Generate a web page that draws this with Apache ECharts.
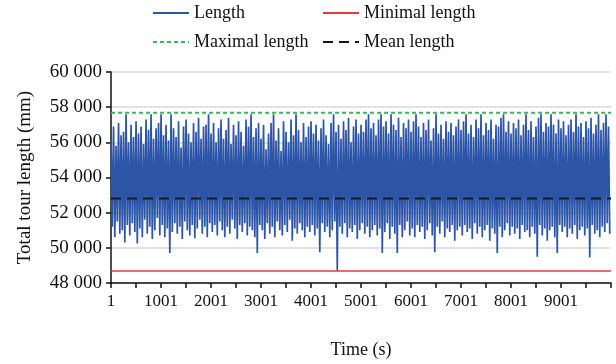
<!DOCTYPE html>
<html>
<head>
<meta charset="utf-8">
<script src="https://cdn.jsdelivr.net/npm/echarts@6/dist/echarts.min.js"></script>
<style>
html,body{margin:0;padding:0;background:#fff;}
#chart{width:616px;height:364px;}
</style>
</head>
<body>
<div id="chart"></div>
<script>
// Upper envelope of the tour length samples (mm), read left to right
var peaks = [
56200,56900,55800,57100,56400,56600,57600,56000,57000,56300,57200,56500,56900,55900,57300,56700,57600,56200,56800,57100,
57600,56400,57000,56100,57600,56800,56300,57200,55700,56900,57300,56500,56000,57100,56600,57400,56200,56900,57000,57600,
56500,57100,56000,56800,57300,56200,56700,57400,55900,57000,56400,57200,56600,55800,57300,56900,57600,56300,56800,57100,
56200,57000,55600,56500,57100,57600,56100,56800,55500,57200,56600,56000,57300,56400,57600,56700,56000,57100,56300,56900,
57200,56500,57000,56100,56800,57300,56400,55900,57100,57600,56600,57000,56200,57200,56700,57400,56000,56900,57300,56500,
57000,56600,57300,57600,56800,57100,56400,57300,57600,56900,57200,56500,57600,57000,56700,57400,56300,57100,56800,57300,
56600,57200,57600,56900,56300,57100,56700,57300,56100,56800,57600,56500,57000,56200,57200,56600,57100,56400,56900,57300,
56700,57200,57600,56500,57000,56300,57300,56800,57600,56400,57100,56700,57300,56200,57000,56900,57400,57600,56600,57200,
56500,57100,56800,57300,56400,57000,57600,56700,57200,56300,56900,57400,57600,56600,57100,56900,57600,57000,56500,57300,
56800,57200,56400,57000,57300,56600,57600,56900,57100,56300,57200,56800,57400,56500,57000,57600,56700,57100,57600,56900
];
// Lower envelope of the tour length samples (mm), read left to right
var troughs = [
51200,50600,51500,50800,51000,50300,51300,50700,51400,50900,50250,51100,50600,51600,50800,51200,50500,51000,51700,50700,
51300,50600,51100,49700,50900,51400,50800,51200,50500,51500,51000,50700,51300,50540,51100,51600,50800,51200,50600,51400,
50900,51300,50700,51500,51000,50600,51200,50800,51600,51100,50500,51300,50900,51400,50700,51200,51000,50600,49700,51300,
51000,50500,51400,50800,51200,50600,51500,51000,50700,51300,50900,51600,50400,51100,50800,51400,51000,50600,51200,50900,
51300,50700,51100,49750,51400,50900,51200,50600,51000,51500,48700,51200,50800,51400,50600,51100,50900,51300,50500,51000,
51400,50800,51200,50600,51000,51300,50700,51100,49700,50900,51400,50500,51200,50800,49700,51300,50600,51000,51500,50700,
51100,50600,51300,50900,51200,50500,51000,51400,50700,49750,51200,50800,51500,50600,51100,50900,51300,50400,51000,51200,
50700,51300,50900,51100,50500,51400,50800,51200,50600,51000,51300,50400,51100,50800,49700,51200,50600,51000,51400,50700,
51200,50800,51100,50500,51300,50900,51000,50600,51200,50800,49500,51300,50700,51100,50400,51000,51200,50600,49700,51300,
50900,51200,50600,51100,50800,51300,50500,51000,51200,50700,51100,49450,51300,50800,51000,50600,51200,50900,51400,50800
];
var minimalLength = 48680;
var maximalLength = 57680;
var meanLength = 52800;
var timeStart = 1;
var timeEnd = 10000;
var yTicks = [48000, 50000, 52000, 54000, 56000, 58000, 60000];

var n = peaks.length;
var step = (timeEnd - timeStart) / (2 * n);
var lengthData = [];
for (var j = 0; j < n; j++) {
  lengthData.push([timeStart + 2 * j * step, peaks[j]]);
  lengthData.push([timeStart + (2 * j + 1) * step, troughs[j]]);
}
function flat(v) { return [[timeStart, v], [timeEnd, v]]; }

var FONT = 'Liberation Serif';
var chart = echarts.init(document.getElementById('chart'), null, {renderer: 'canvas'});

function legendAt(name, left, top) {
  return {
    data: [name], left: left, top: top, itemWidth: 36, itemHeight: 12, itemGap: 0,
    itemStyle: {opacity: 0},
    textStyle: {fontFamily: FONT, fontSize: 18, color: '#111'}, padding: 0
  };
}

chart.setOption({
  animation: false,
  backgroundColor: '#fff',
  legend: [
    legendAt('Length', 152, 4),
    legendAt('Minimal length', 322, 4),
    legendAt('Maximal length', 152, 33),
    legendAt('Mean length', 322, 33)
  ],
  grid: {left: 111, right: 5, top: 72, bottom: 81, containLabel: false},
  xAxis: {
    type: 'value', min: 0, max: 10000, interval: 500,
    name: 'Time (s)', nameLocation: 'middle', nameGap: 58,
    nameTextStyle: {fontFamily: FONT, fontSize: 18, color: '#111'},
    axisLine: {lineStyle: {color: '#111', width: 1.5}},
    axisTick: {show: true, inside: false, length: 5, lineStyle: {color: '#111', width: 1.5}},
    axisLabel: {
      fontFamily: FONT, fontSize: 17, color: '#111', margin: 10,
      formatter: function (v) { return (v % 1000 === 0 && v < timeEnd) ? String(v + timeStart) : ''; }
    },
    splitLine: {show: false}
  },
  yAxis: {
    type: 'value', min: yTicks[0], max: yTicks[yTicks.length - 1], interval: 2000,
    name: 'Total tour length (mm)', nameLocation: 'middle', nameGap: 76, nameRotate: 90,
    nameTextStyle: {fontFamily: FONT, fontSize: 19, color: '#111'},
    axisLine: {show: true, lineStyle: {color: '#111', width: 1.5}},
    axisTick: {show: true, inside: false, length: 5, lineStyle: {color: '#111', width: 1.5}},
    axisLabel: {
      fontFamily: FONT, fontSize: 19, color: '#111', margin: 9,
      formatter: function (v) { var s = String(v); return s.slice(0, s.length - 3) + ' ' + s.slice(-3); }
    },
    splitLine: {show: true, lineStyle: {color: '#d9d9d9', width: 1.5}}
  },
  series: [
    {name: 'Length', type: 'line', data: lengthData, symbol: 'none', z: 2,
     lineStyle: {color: '#2C55A8', width: 1.7}, itemStyle: {color: '#2C55A8'}},
    {name: 'Minimal length', type: 'line', data: flat(minimalLength), symbol: 'none', z: 3,
     lineStyle: {color: '#E8383D', width: 1.5}, itemStyle: {color: '#E8383D'}},
    {name: 'Maximal length', type: 'line', data: flat(maximalLength), symbol: 'none', z: 3,
     lineStyle: {color: '#3DB55C', width: 2, type: [4, 3]}, itemStyle: {color: '#3DB55C'}},
    {name: 'Mean length', type: 'line', data: flat(meanLength), symbol: 'none', z: 3,
     lineStyle: {color: '#1a1a1a', width: 2, type: [10, 6]}, itemStyle: {color: '#1a1a1a'}}
  ]
});
</script>
</body>
</html>
